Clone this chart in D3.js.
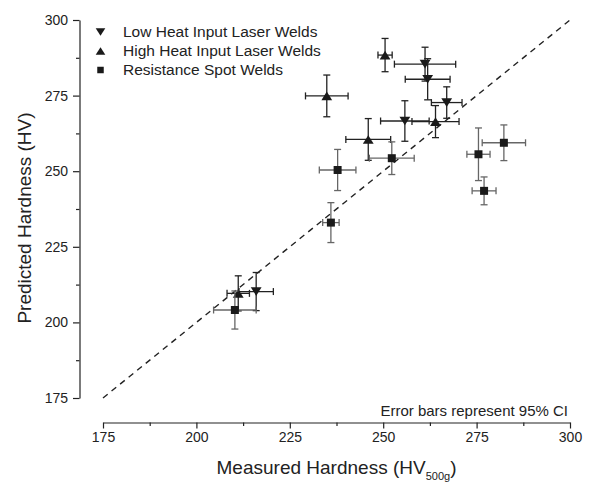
<!DOCTYPE html>
<html>
<head>
<meta charset="utf-8">
<script src="https://cdn.jsdelivr.net/npm/d3@7"></script>
<style>
  body { margin: 0; background: #fff; }
  svg { display: block; font-family: "Liberation Sans", Arial, sans-serif; }
</style>
</head>
<body>
<div id="chart"></div>
<script>
// Measured vs predicted hardness, with 95% CI half-widths
const lowHeatWelds = [
  { measured: 261.2, predicted: 285.4, xErr: 8.2, yErr: 5.6 },
  { measured: 261.9, predicted: 280.4, xErr: 6.0, yErr: 6.8 },
  { measured: 267.0, predicted: 272.7, xErr: 4.1, yErr: 5.2 },
  { measured: 255.8, predicted: 266.6, xErr: 6.5, yErr: 6.7 },
  { measured: 216.0, predicted: 210.2, xErr: 4.6, yErr: 6.3 },
];

const highHeatWelds = [
  { measured: 250.5, predicted: 288.4, xErr: 1.9, yErr: 5.5 },
  { measured: 234.9, predicted: 274.9, xErr: 5.7, yErr: 6.9 },
  { measured: 246.0, predicted: 260.5, xErr: 6.0, yErr: 6.9 },
  { measured: 264.0, predicted: 266.4, xErr: 6.3, yErr: 5.3 },
  { measured: 211.2, predicted: 209.6, xErr: 3.0, yErr: 5.8 },
];

const spotWelds = [
  { measured: 237.8, predicted: 250.4, xErr: 4.9, yErr: 6.8 },
  { measured: 252.3, predicted: 254.3, xErr: 6.0, yErr: 5.4 },
  { measured: 275.5, predicted: 255.6, xErr: 3.1, yErr: 8.7 },
  { measured: 282.3, predicted: 259.4, xErr: 5.8, yErr: 5.9 },
  { measured: 277.0, predicted: 243.5, xErr: 3.2, yErr: 4.6 },
  { measured: 236.0, predicted: 233.0, xErr: 2.2, yErr: 6.6 },
  { measured: 210.3, predicted: 204.1, xErr: 5.7, yErr: 6.3 },
];

const seriesNames = [
  "Low Heat Input Laser Welds",
  "High Heat Input Laser Welds",
  "Resistance Spot Welds",
];
const seriesSymbols = ["down", "up", "square"];

const axisDomain = [175, 300];
const majorTicks = [175, 200, 225, 250, 275, 300];
const minorTicks = [187.5, 212.5, 237.5, 262.5, 287.5];

class HardnessChart {
  constructor(_config) {
    this.config = {
      parentElement: _config.parentElement,
      containerWidth: 591,
      containerHeight: 484,
    };
    this.initVis();
  }

  initVis() {
    let vis = this;

    vis.svg = d3
      .select(vis.config.parentElement)
      .append("svg")
      .attr("width", vis.config.containerWidth)
      .attr("height", vis.config.containerHeight);

    vis.x = d3.scaleLinear().domain(axisDomain).range([103, 570]);
    vis.y = d3.scaleLinear().domain(axisDomain).range([398, 20]);

    // Symbol shapes (triangles drawn by hand so they point exactly up/down)
    vis.symbolPath = (type, s) => {
      if (type === "square") {
        return `M${-s / 2},${-s / 2}h${s}v${s}h${-s}Z`;
      }
      const w = s * 0.6, h = s * 0.48;
      return type === "up"
        ? `M0,${-h}L${w},${h}L${-w},${h}Z`
        : `M0,${h}L${w},${-h}L${-w},${-h}Z`;
    };

    vis.renderAxes();
    vis.renderVis();
    vis.renderLegend();
  }

  renderAxes() {
    let vis = this;

    // Bottom axis, offset from the left one
    const xAxis = d3
      .axisBottom(vis.x)
      .tickValues(majorTicks)
      .tickSize(6)
      .tickPadding(4)
      .tickSizeOuter(0);
    const xg = vis.svg
      .append("g")
      .attr("transform", "translate(0,422.5)")
      .call(xAxis);
    xg.selectAll("text")
      .style("font-size", "14px")
      .style("font-family", "Liberation Sans, Arial, sans-serif")
      .attr("fill", "#222");
    xg.selectAll("line, path").attr("stroke", "#222").attr("stroke-width", 1.2);
    vis.svg
      .append("g")
      .attr("transform", "translate(0,422.5)")
      .call(d3.axisBottom(vis.x).tickValues(minorTicks).tickSize(3.5).tickFormat(""))
      .call((g) => g.select(".domain").remove())
      .call((g) => g.selectAll("line").attr("stroke", "#222").attr("stroke-width", 1.2));

    const yAxis = d3
      .axisLeft(vis.y)
      .tickValues(majorTicks)
      .tickSize(6.5)
      .tickPadding(5)
      .tickSizeOuter(0);
    const yg = vis.svg
      .append("g")
      .attr("transform", "translate(79.5,0)")
      .call(yAxis);
    yg.selectAll("text")
      .style("font-size", "14px")
      .style("font-family", "Liberation Sans, Arial, sans-serif")
      .attr("fill", "#222");
    yg.selectAll("line, path").attr("stroke", "#222").attr("stroke-width", 1.2);
    vis.svg
      .append("g")
      .attr("transform", "translate(79.5,0)")
      .call(d3.axisLeft(vis.y).tickValues(minorTicks).tickSize(3.5).tickFormat(""))
      .call((g) => g.select(".domain").remove())
      .call((g) => g.selectAll("line").attr("stroke", "#222").attr("stroke-width", 1.2));

    // Axis titles
    const xTitle = vis.svg
      .append("text")
      .attr("x", 336.5)
      .attr("y", 474)
      .attr("text-anchor", "middle")
      .attr("fill", "#222")
      .style("font-size", "19px");
    xTitle.append("tspan").text("Measured Hardness (HV");
    xTitle.append("tspan").attr("dy", 6).style("font-size", "11px").text("500g");
    xTitle.append("tspan").attr("dy", -6).text(")");

    vis.svg
      .append("text")
      .attr("transform", "translate(31,218) rotate(-90)")
      .attr("text-anchor", "middle")
      .attr("fill", "#222")
      .style("font-size", "19px")
      .text("Predicted Hardness (HV)");

    vis.svg
      .append("text")
      .attr("x", 568)
      .attr("y", 416)
      .attr("text-anchor", "end")
      .attr("fill", "#222")
      .style("font-size", "15px")
      .text("Error bars represent 95% CI");

    // 1:1 reference line
    vis.svg
      .append("line")
      .attr("x1", vis.x(175))
      .attr("y1", vis.y(175))
      .attr("x2", vis.x(300))
      .attr("y2", vis.y(300))
      .attr("stroke", "#222")
      .attr("stroke-width", 1.4)
      .attr("stroke-dasharray", "6,5");
  }

  renderVis() {
    let vis = this;
    const groups = [
      { data: lowHeatWelds, symbol: "down", barColor: "#222", size: 9 },
      { data: highHeatWelds, symbol: "up", barColor: "#222", size: 9 },
      { data: spotWelds, symbol: "square", barColor: "#666", size: 8 },
    ];
    const cap = 3.5;

    groups.forEach((grp) => {
      const g = vis.svg.append("g");
      const pts = g
        .selectAll("g")
        .data(grp.data)
        .join("g")
        .attr("stroke", grp.barColor)
        .attr("stroke-width", 1.3);

      // horizontal error bar + caps
      pts.append("line")
        .attr("x1", (d) => vis.x(d.measured - d.xErr))
        .attr("x2", (d) => vis.x(d.measured + d.xErr))
        .attr("y1", (d) => vis.y(d.predicted))
        .attr("y2", (d) => vis.y(d.predicted));
      [-1, 1].forEach((sgn) => {
        pts.append("line")
          .attr("x1", (d) => vis.x(d.measured + sgn * d.xErr))
          .attr("x2", (d) => vis.x(d.measured + sgn * d.xErr))
          .attr("y1", (d) => vis.y(d.predicted) - cap)
          .attr("y2", (d) => vis.y(d.predicted) + cap);
      });

      // vertical error bar + caps
      pts.append("line")
        .attr("x1", (d) => vis.x(d.measured))
        .attr("x2", (d) => vis.x(d.measured))
        .attr("y1", (d) => vis.y(d.predicted - d.yErr))
        .attr("y2", (d) => vis.y(d.predicted + d.yErr));
      [-1, 1].forEach((sgn) => {
        pts.append("line")
          .attr("x1", (d) => vis.x(d.measured) - cap)
          .attr("x2", (d) => vis.x(d.measured) + cap)
          .attr("y1", (d) => vis.y(d.predicted + sgn * d.yErr))
          .attr("y2", (d) => vis.y(d.predicted + sgn * d.yErr));
      });

      pts.append("path")
        .attr("transform", (d) => `translate(${vis.x(d.measured)},${vis.y(d.predicted)})`)
        .attr("d", vis.symbolPath(grp.symbol, grp.size))
        .attr("fill", "#1a1a1a")
        .attr("stroke", "none");
    });
  }

  renderLegend() {
    let vis = this;
    const legend = vis.svg
      .append("g")
      .selectAll("g")
      .data(seriesNames)
      .join("g")
      .attr("transform", (d, i) => `translate(100.5,${32 + i * 19})`);

    legend
      .append("path")
      .attr("d", (d, i) => vis.symbolPath(seriesSymbols[i], seriesSymbols[i] === "square" ? 6.5 : 8))
      .attr("fill", "#1a1a1a");

    legend
      .append("text")
      .attr("x", 22.5)
      .attr("dy", "0.35em")
      .attr("fill", "#222")
      .style("font-size", "15.5px")
      .text((d) => d);
  }
}

new HardnessChart({ parentElement: "#chart" });
</script>
</body>
</html>
